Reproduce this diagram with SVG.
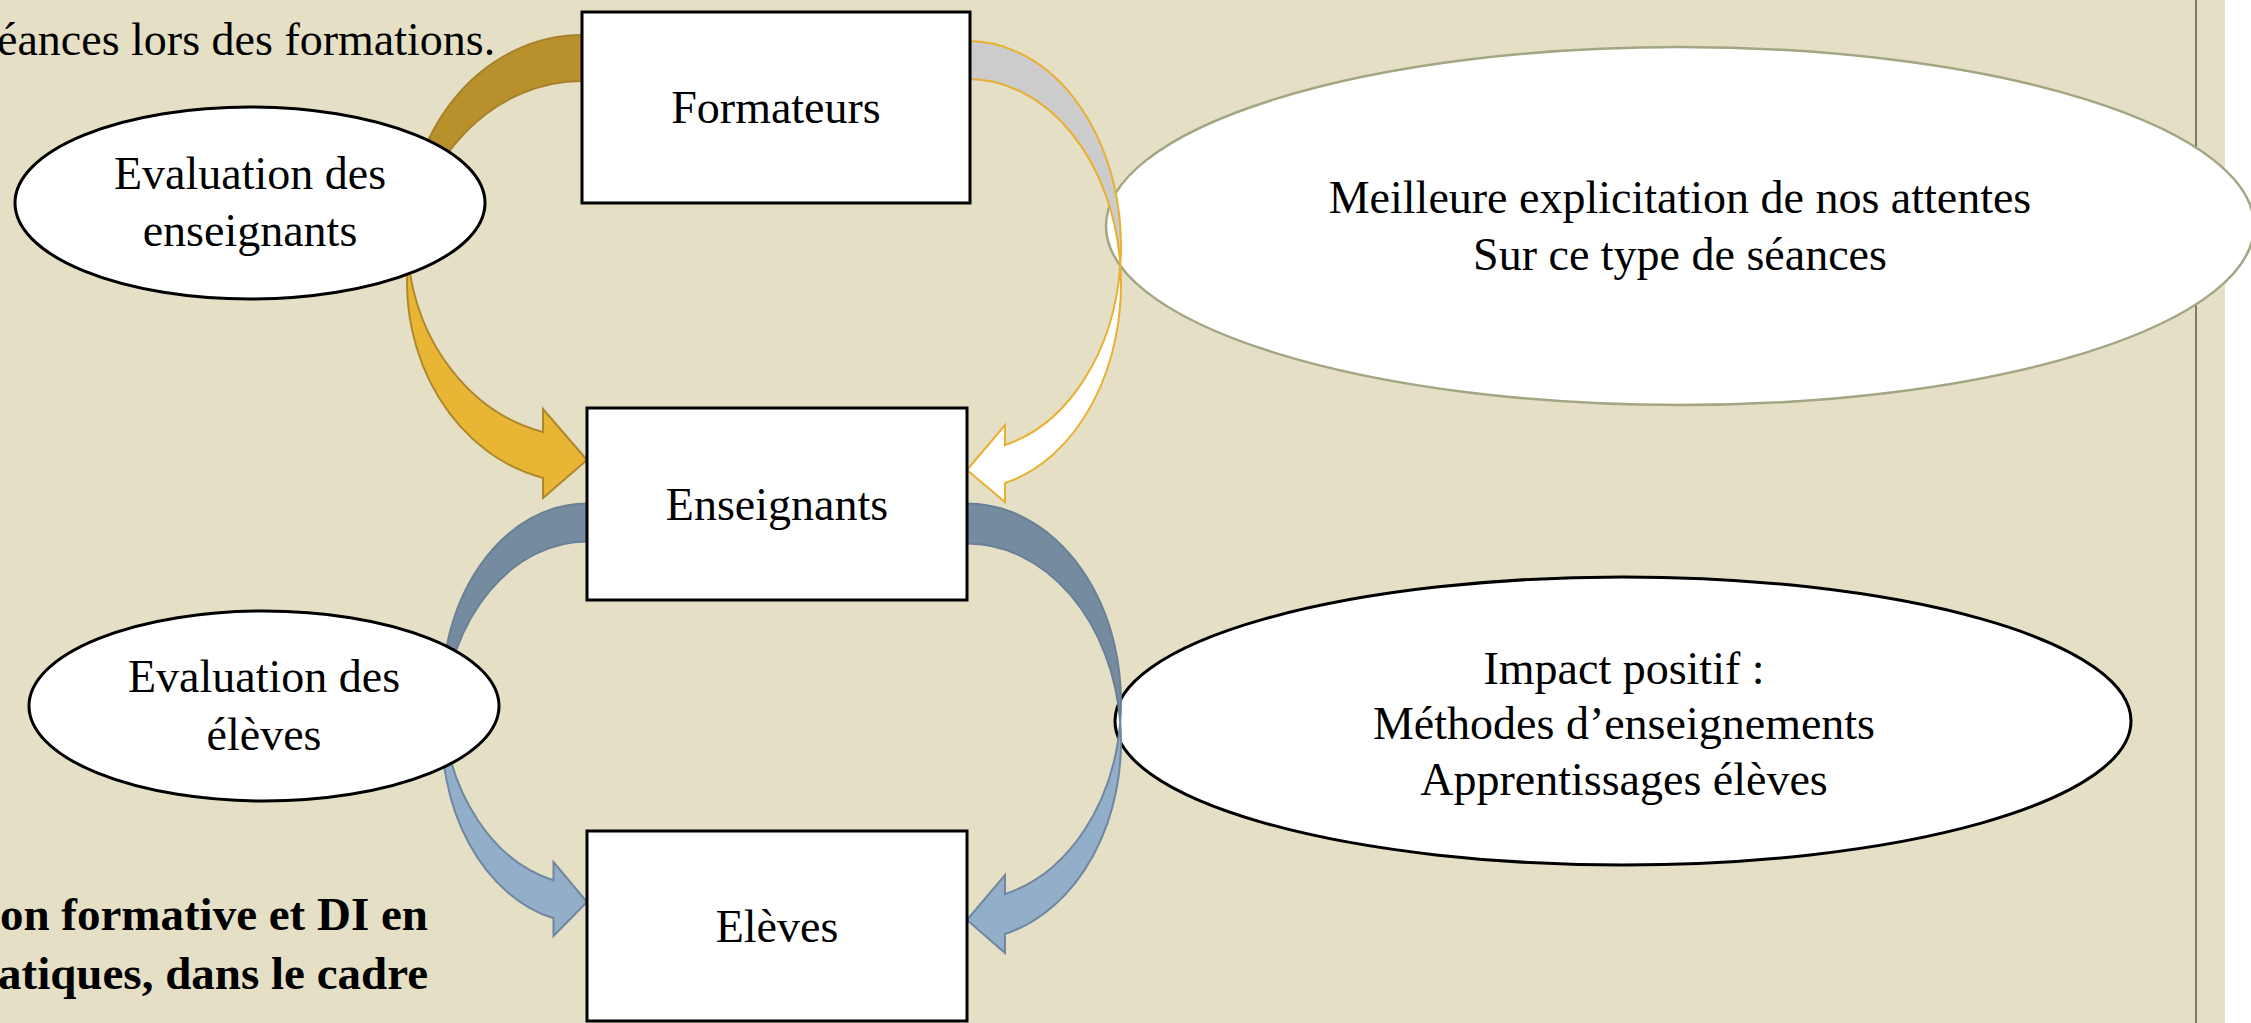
<svg xmlns="http://www.w3.org/2000/svg" width="2251" height="1023" viewBox="0 0 2251 1023">
<style>
text{font-family:"Liberation Serif","Times New Roman",serif;fill:#000}
.lbl{font-size:46px;text-anchor:middle}
.body{font-size:46px}
.bold{font-size:47px;font-weight:bold;text-anchor:end}
.box{fill:#fff;stroke:#000;stroke-width:3}
.ell{fill:#fff;stroke:#000;stroke-width:3}
.gback{fill:#B8902C;stroke:#A8822A;stroke-width:2}
.gfront{fill:#E8B534;stroke:#AE882C;stroke-width:2}
.wback{fill:#CCCCCC;stroke:#E8B030;stroke-width:2}
.wfront{fill:#FFFFFF;stroke:#E8B030;stroke-width:2}
.bback{fill:#758BA0;stroke:#6A8096;stroke-width:2}
.bfront{fill:#92AEC8;stroke:#6F88A0;stroke-width:2}
</style>
<rect x="0" y="0" width="2251" height="1023" fill="#fff"/>
<rect x="0" y="0" width="2225" height="1023" fill="#E5DFC6"/>
<line x1="2196" y1="0" x2="2196" y2="1023" stroke="#7B7B6B" stroke-width="2"/>
<text class="body" x="-3" y="55">éances lors des formations.</text>
<text class="bold" x="428" y="930">on formative et DI en</text>
<text class="bold" x="428" y="989">atiques, dans le cadre</text>

<g id="node-meilleure">
<ellipse cx="1680" cy="226" rx="574" ry="179" fill="#fff" stroke="#A3A682" stroke-width="2.5"/>
<text class="lbl" x="1680" y="213">Meilleure explicitation de nos attentes</text>
<text class="lbl" x="1680" y="270">Sur ce type de séances</text>
</g>
<g id="node-impact">
<ellipse class="ell" cx="1623" cy="721" rx="508" ry="144"/>
<text class="lbl" x="1624" y="684">Impact positif :</text>
<text class="lbl" x="1624" y="739">Méthodes d’enseignements</text>
<text class="lbl" x="1624" y="795">Apprentissages élèves</text>
</g>

<g id="connectors">
<path class="gback" d="M582,35 A175,201 0 0 0 408.2,259 A175,201 0 0 1 582,81 Z"/>
<path class="gfront" d="M408.2,259 A175,201 0 0 0 543,478 L543,498 L587,460 L543,409 L543,432 A175,201 0 0 1 408.2,259 Z"/>
<path class="wback" d="M968,41 A153,205 0 0 1 1120.3,265 A153,205 0 0 0 968,79 Z"/>
<path class="wfront" d="M1120.3,265 A153,205 0 0 1 1005,483 L1005,502 L967,470 L1005,425 L1005,445 A153,205 0 0 0 1120.3,265 Z"/>
<path class="bback" d="M587,503.5 A145,191 0 0 0 442.7,713.5 A145,191 0 0 1 587,541.5 Z"/>
<path class="bfront" d="M442.7,713.5 A145,191 0 0 0 553.5,918.3 L553.5,936 L587,902 L553.5,862 L553.5,880.3 A145,191 0 0 1 442.7,713.5 Z"/>
<path class="bback" d="M967,503.5 A154,198.3 0 0 1 1120.2,721.8 A154,198.3 0 0 0 967,543.5 Z"/>
<path class="bfront" d="M1120.2,721.8 A154,198.3 0 0 1 1005,934 L1005,953 L967,920 L1005,875 L1005,894 A154,198.3 0 0 0 1120.2,721.8 Z"/>
</g>

<g id="node-eval-enseignants">
<ellipse class="ell" cx="250" cy="203" rx="235" ry="96"/>
<text class="lbl" x="250" y="189">Evaluation des</text>
<text class="lbl" x="250" y="246">enseignants</text>
</g>
<g id="node-eval-eleves">
<ellipse class="ell" cx="264" cy="706" rx="235" ry="95"/>
<text class="lbl" x="264" y="692">Evaluation des</text>
<text class="lbl" x="264" y="750">élèves</text>
</g>
<g id="node-formateurs">
<rect class="box" x="582" y="12" width="388" height="191"/>
<text class="lbl" x="776" y="123">Formateurs</text>
</g>
<g id="node-enseignants">
<rect class="box" x="587" y="408" width="380" height="192"/>
<text class="lbl" x="777" y="520">Enseignants</text>
</g>
<g id="node-eleves">
<rect class="box" x="587" y="831" width="380" height="190"/>
<text class="lbl" x="777" y="942">Elèves</text>
</g>
</svg>
